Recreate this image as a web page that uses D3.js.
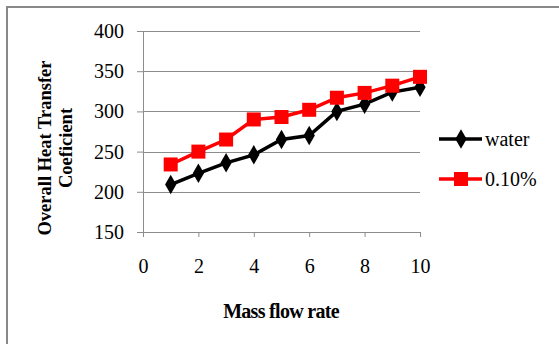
<!DOCTYPE html>
<html>
<head>
<meta charset="utf-8">
<script src="https://cdn.jsdelivr.net/npm/d3@7"></script>
<style>
  body { margin: 0; background: #fff; }
</style>
</head>
<body>
<div id="chart"></div>
<script>
(function() {
    var xValues = [1, 2, 3, 4, 5, 6, 7, 8, 9, 10];
    var waterValues = [209, 223, 236, 246, 265, 270, 300, 309, 324, 330];
    var nanoValues = [234, 250, 265, 290, 293, 302, 317, 323, 332, 343];
    var seriesNames = ["water", "0.10%"];
    var xTicks = [0, 2, 4, 6, 8, 10];
    var yTicks = [150, 200, 250, 300, 350, 400];

    var FONT = "Liberation Serif, Times New Roman, serif";
    var W = 559, H = 344;
    var margin = {top: 31, left: 143, right: 139, bottom: 112};
    var width = W - margin.left - margin.right,
        height = H - margin.top - margin.bottom;

    var svg = d3.select("#chart").append("svg")
        .attr("width", W)
        .attr("height", H)
        .attr("font-family", FONT);

    // outer frame (only top and left visible)
    svg.append("path")
        .attr("d", "M7,345 L7,7 L560,7")
        .attr("fill", "none")
        .attr("stroke", "#888")
        .attr("stroke-width", 2);

    var g = svg.append("g")
        .attr("transform", "translate(" + margin.left + "," + margin.top + ")");

    var x = d3.scaleLinear().domain([0, 10]).range([0, width]);
    var y = d3.scaleLinear().domain([150, 400]).range([height, 0]);

    // gridlines
    g.selectAll(".grid")
        .data(yTicks.slice(1))
        .enter().append("line")
        .attr("x1", 0).attr("x2", width)
        .attr("y1", d => Math.round(y(d)) + 0.5)
        .attr("y2", d => Math.round(y(d)) + 0.5)
        .attr("stroke", "#8c8c8c");

    var yAxis = g.append("g")
        .call(d3.axisLeft(y).tickValues(yTicks).tickSize(6).tickPadding(13));
    var xAxis = g.append("g")
        .attr("transform", "translate(0," + height + ")")
        .call(d3.axisBottom(x).tickValues(xTicks).tickSize(5).tickPadding(22));

    [yAxis, xAxis].forEach(function(a) {
        a.attr("font-family", FONT).attr("font-size", 20);
        a.select(".domain").attr("stroke", "#8c8c8c");
        a.selectAll(".tick line").attr("stroke", "#8c8c8c");
        a.selectAll(".tick text").attr("fill", "#000");
    });
    yAxis.select(".domain").attr("d", "M0.5,0V" + (height + 0.5));

    var line = d3.line()
        .x(d => x(d[0]))
        .y(d => y(d[1]));

    var waterData = xValues.map((v, i) => [v, waterValues[i]]);
    var nanoData = xValues.map((v, i) => [v, nanoValues[i]]);

    // water series
    g.append("path")
        .datum(waterData)
        .attr("d", line)
        .attr("fill", "none")
        .attr("stroke", "#000")
        .attr("stroke-width", 3.5);
    var diamond = d3.symbol().type(d3.symbolDiamond).size(110);
    g.selectAll(".wpt")
        .data(waterData)
        .enter().append("path")
        .attr("transform", d => "translate(" + x(d[0]) + "," + y(d[1]) + ")")
        .attr("d", diamond)
        .attr("fill", "#000");

    // 0.10% series
    g.append("path")
        .datum(nanoData)
        .attr("d", line)
        .attr("fill", "none")
        .attr("stroke", "#ff0000")
        .attr("stroke-width", 3.5);
    g.selectAll(".npt")
        .data(nanoData)
        .enter().append("rect")
        .attr("x", d => x(d[0]) - 7)
        .attr("y", d => y(d[1]) - 7)
        .attr("width", 14)
        .attr("height", 14)
        .attr("fill", "#ff0000");

    // axis titles
    svg.append("text")
        .attr("x", 281)
        .attr("y", 318)
        .attr("text-anchor", "middle")
        .attr("font-size", 20)
        .attr("font-weight", "bold")
        .attr("letter-spacing", "-0.7")
        .text("Mass flow rate");

    var yt = svg.append("text")
        .attr("transform", "translate(51,148) rotate(-90)")
        .attr("text-anchor", "middle")
        .attr("font-size", 18.5)
        .attr("font-weight", "bold");
    yt.append("tspan").attr("x", 0).attr("dy", 0).text("Overall Heat Transfer");
    yt.append("tspan").attr("x", 0).attr("dy", 21).text("Coeficient");

    // legend
    var legend = svg.append("g");
    var items = [
        {name: seriesNames[0], color: "#000", y: 139, shape: "diamond"},
        {name: seriesNames[1], color: "#ff0000", y: 179, shape: "square"}
    ];
    items.forEach(function(it) {
        legend.append("line")
            .attr("x1", 439).attr("x2", 482)
            .attr("y1", it.y).attr("y2", it.y)
            .attr("stroke", it.color)
            .attr("stroke-width", 3.5);
        if (it.shape === "diamond") {
            legend.append("path")
                .attr("transform", "translate(461," + it.y + ")")
                .attr("d", diamond)
                .attr("fill", it.color);
        } else {
            legend.append("rect")
                .attr("x", 454).attr("y", it.y - 7)
                .attr("width", 14).attr("height", 14)
                .attr("fill", it.color);
        }
        legend.append("text")
            .attr("x", 485)
            .attr("y", it.y + 7)
            .attr("font-size", 20)
            .text(it.name);
    });
})();
</script>
</body>
</html>
